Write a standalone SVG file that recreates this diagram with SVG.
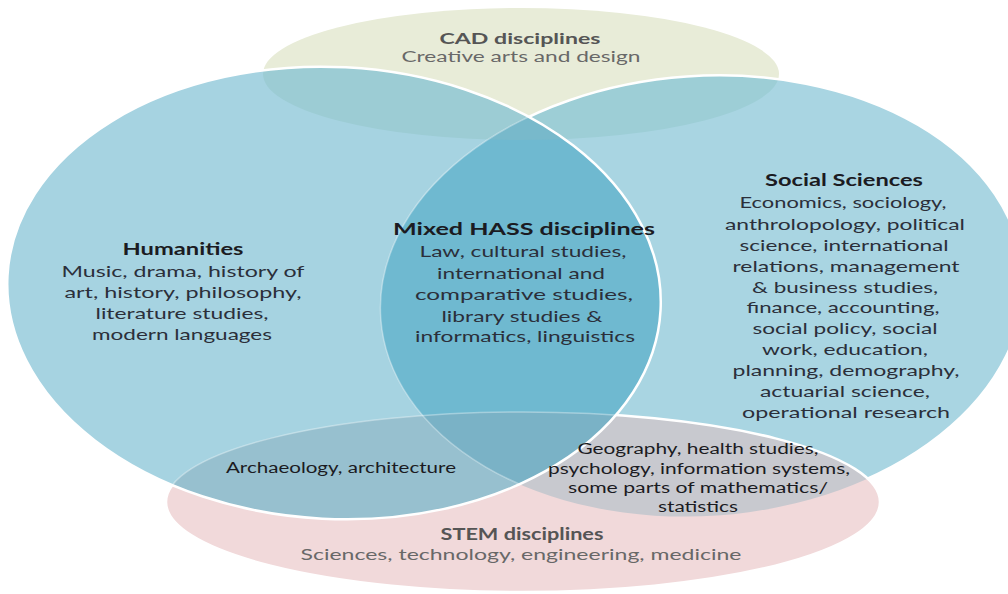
<svg xmlns="http://www.w3.org/2000/svg" width="1008" height="594" viewBox="0 0 1008 594">
<defs>
<style>
.t{font-family:Lato,"DejaVu Sans",sans-serif;text-anchor:middle}
.h{font-weight:700;font-size:17px}
.hc{font-weight:700;font-size:16px}
.b{font-size:16px}
.bc{font-size:15.5px}
.s{font-size:15.5px}
.dk{fill:#1b1b22}
.bd{fill:#2b2f3a}
.gh{fill:#555555}
.gb{fill:#686868}
.edge{fill:none;stroke:#ffffff;stroke-width:2.5}
.faint{fill:none;stroke:#ffffff;stroke-width:1.5;stroke-opacity:0.35}
</style>
<ellipse id="e-cad" cx="521" cy="74" rx="258" ry="66"/>
<ellipse id="e-hum" cx="334" cy="293" rx="327" ry="226" transform="rotate(3 334 293)"/>
<ellipse id="e-soc" cx="702" cy="296" rx="322" ry="220" transform="rotate(-4 702 296)"/>
<ellipse id="e-stem" cx="523" cy="502" rx="357" ry="90"/>
<clipPath id="c-hum"><use href="#e-hum"/></clipPath>
<clipPath id="c-soc"><use href="#e-soc"/></clipPath>
</defs>
<rect width="1008" height="594" fill="#ffffff"/>

<g id="cad">
<use href="#e-cad" fill="#E8ECD8"/>
<text class="t hc gh" x="520" y="44" textLength="161" lengthAdjust="spacingAndGlyphs">CAD disciplines</text>
<text class="t bc gb" x="521" y="62" textLength="239" lengthAdjust="spacingAndGlyphs">Creative arts and design</text>
</g>

<g id="social-sciences">
<use href="#e-soc" fill="#A9D5E2"/>
<use href="#e-cad" fill="#9DCED6" clip-path="url(#c-soc)"/>
<use href="#e-soc" class="edge"/>
<text class="t h dk" x="844" y="186" textLength="158" lengthAdjust="spacingAndGlyphs">Social Sciences</text>
<g class="t b bd">
<text x="843" y="208" textLength="207" lengthAdjust="spacingAndGlyphs">Economics, sociology,</text>
<text x="845" y="230" textLength="240" lengthAdjust="spacingAndGlyphs">anthrolopology, political</text>
<text x="844" y="251" textLength="209" lengthAdjust="spacingAndGlyphs">science, international</text>
<text x="846" y="272" textLength="227" lengthAdjust="spacingAndGlyphs">relations, management</text>
<text x="845" y="293" textLength="186" lengthAdjust="spacingAndGlyphs">&amp; business studies,</text>
<text x="843" y="313" textLength="193" lengthAdjust="spacingAndGlyphs">finance, accounting,</text>
<text x="845" y="334" textLength="185" lengthAdjust="spacingAndGlyphs">social policy, social</text>
<text x="845" y="355" textLength="166" lengthAdjust="spacingAndGlyphs">work, education,</text>
<text x="846" y="376" textLength="227" lengthAdjust="spacingAndGlyphs">planning, demography,</text>
<text x="845" y="397" textLength="170" lengthAdjust="spacingAndGlyphs">actuarial science,</text>
<text x="846" y="418" textLength="208" lengthAdjust="spacingAndGlyphs">operational research</text>
</g>
</g>

<g id="stem">
<use href="#e-stem" fill="#F1D9DA"/>
<use href="#e-stem" fill="#C8C9CF" clip-path="url(#c-soc)"/>
<use href="#e-stem" class="edge"/>
<text class="t h gh" x="522" y="540" textLength="163" lengthAdjust="spacingAndGlyphs">STEM disciplines</text>
<text class="t b gb" x="521" y="560" textLength="441" lengthAdjust="spacingAndGlyphs">Sciences, technology, engineering, medicine</text>
</g>

<g id="humanities">
<use href="#e-hum" fill="#A6D3E1"/>
<g clip-path="url(#c-hum)">
<use href="#e-cad" fill="#9CCCD4"/>
<use href="#e-stem" fill="#97C0CF"/>
<use href="#e-soc" fill="#6FB9D0"/>
<g clip-path="url(#c-soc)">
<use href="#e-cad" fill="#78B9CB"/>
<use href="#e-stem" fill="#7AB2C6"/>
</g>
<use href="#e-soc" class="faint"/>
<use href="#e-stem" class="faint"/>
</g>
<use href="#e-hum" class="edge"/>
<text class="t h dk" x="183" y="255" textLength="121" lengthAdjust="spacingAndGlyphs">Humanities</text>
<g class="t b bd">
<text x="183" y="277" textLength="243" lengthAdjust="spacingAndGlyphs">Music, drama, history of</text>
<text x="183" y="298" textLength="237" lengthAdjust="spacingAndGlyphs">art, history, philosophy,</text>
<text x="182" y="319" textLength="173" lengthAdjust="spacingAndGlyphs">literature studies,</text>
<text x="182" y="340" textLength="180" lengthAdjust="spacingAndGlyphs">modern languages</text>
</g>
</g>

<g id="mixed-hass">
<text class="t h dk" x="524" y="235" textLength="262" lengthAdjust="spacingAndGlyphs">Mixed HASS disciplines</text>
<g class="t b bd">
<text x="523" y="257" textLength="207" lengthAdjust="spacingAndGlyphs">Law, cultural studies,</text>
<text x="521" y="279" textLength="168" lengthAdjust="spacingAndGlyphs">international and</text>
<text x="524" y="300" textLength="218" lengthAdjust="spacingAndGlyphs">comparative studies,</text>
<text x="522" y="322" textLength="161" lengthAdjust="spacingAndGlyphs">library studies &amp;</text>
<text x="525" y="342" textLength="220" lengthAdjust="spacingAndGlyphs">informatics, linguistics</text>
</g>
</g>

<g id="humanities-stem">
<text class="t s dk" x="341" y="473" textLength="230" lengthAdjust="spacingAndGlyphs">Archaeology, architecture</text>
</g>

<g id="social-stem">
<g class="t s dk">
<text x="698" y="454" textLength="241" lengthAdjust="spacingAndGlyphs">Geography, health studies,</text>
<text x="699" y="474" textLength="302" lengthAdjust="spacingAndGlyphs">psychology, information systems,</text>
<text x="698" y="493" textLength="260" lengthAdjust="spacingAndGlyphs">some parts of mathematics/</text>
<text x="698" y="512" textLength="80" lengthAdjust="spacingAndGlyphs">statistics</text>
</g>
</g>

<g id="connectors"/>
</svg>
